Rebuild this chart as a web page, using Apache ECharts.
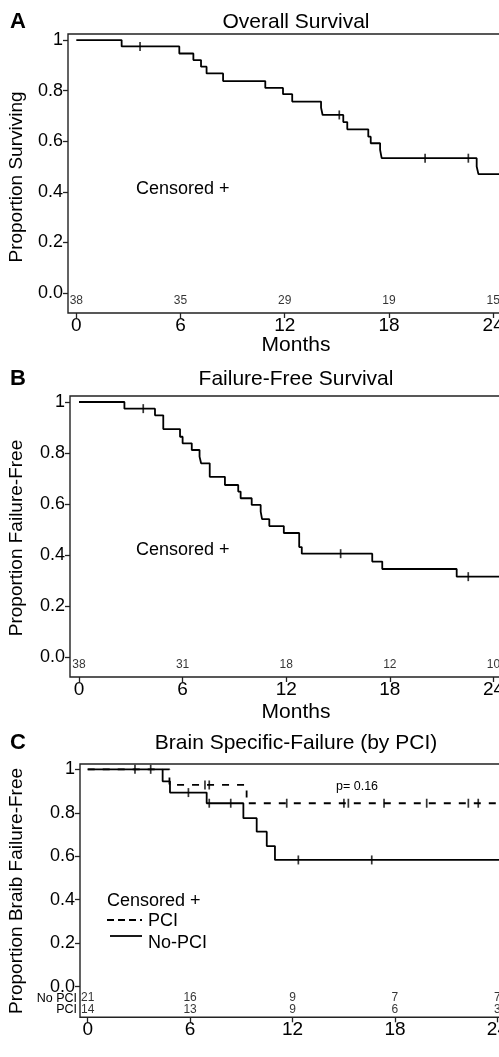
<!DOCTYPE html>
<html>
<head>
<meta charset="utf-8">
<script src="https://cdn.jsdelivr.net/npm/echarts@6/dist/echarts.min.js"></script>
<style>
  html, body { margin: 0; padding: 0; background: #fff; }
  #chart { width: 499px; height: 1057px; }
</style>
</head>
<body>
<div id="chart"></div>
<script>
// ---- data ----
const tickMonths = [0, 6, 12, 18, 24];
const yTicks = [0, 0.2, 0.4, 0.6, 0.8, 1];

// A: overall survival
const osTimes = [0, 2.61, 5.93, 6.74, 7.18, 7.5, 8.45, 10.88, 11.9, 12.43, 14.09, 14.18, 15.37, 15.6, 16.81, 16.95, 17.49, 17.58, 23.05, 23.15];
const osSurv = [1, 0.975, 0.947, 0.921, 0.895, 0.868, 0.838, 0.811, 0.786, 0.757, 0.733, 0.704, 0.676, 0.647, 0.618, 0.592, 0.566, 0.533, 0.5, 0.47];
const osCensor = [3.67, 15.14, 20.08, 22.57];
const osAtRisk = [38, 35, 29, 19, 15];

// B: failure-free survival
const ffsTimes = [0, 2.63, 4.4, 4.88, 5.85, 6.0, 6.53, 6.98, 7.07, 7.57, 8.45, 9.22, 9.36, 10.0, 10.52, 10.6, 11.02, 11.86, 12.75, 12.9, 16.98, 17.56, 21.87];
const ffsSurv = [1, 0.974, 0.948, 0.894, 0.864, 0.838, 0.812, 0.786, 0.76, 0.707, 0.675, 0.649, 0.623, 0.597, 0.571, 0.541, 0.514, 0.487, 0.432, 0.406, 0.375, 0.346, 0.316];
const ffsCensor = [3.72, 15.15, 22.54];
const ffsAtRisk = [38, 31, 18, 12, 10];

// C: brain specific failure, by PCI
const noPciTimes = [0, 4.39, 4.82, 6.97, 9.12, 9.9, 10.49, 10.97];
const noPciSurv = [1, 0.945, 0.893, 0.844, 0.775, 0.713, 0.647, 0.583];
const noPciCensor = [2.77, 3.69, 5.9, 7.12, 8.38, 12.34, 16.64];
const pciTimes = [0, 4.79, 9.31];
const pciSurv = [1, 0.928, 0.844];
const pciCensor = [6.87, 7.12, 11.66, 15.01, 15.27, 17.36, 19.86, 22.3, 22.88];
const noPciAtRisk = [21, 16, 9, 7, 7];
const pciAtRisk = [14, 13, 9, 6, 3];

// ---- layout ----
const FONT = '"Liberation Sans", Arial, sans-serif';
const X_MAX = 25;
const panels = [
  { left: 68, top: 34, height: 279, xMin: -0.478, pxPerMonth: 17.37, yMin: -0.079, yMax: 1.024 },
  { left: 70, top: 396, height: 281, xMin: -0.521, pxPerMonth: 17.27, yMin: -0.077, yMax: 1.0235 },
  { left: 80, top: 764, height: 253.3, xMin: -0.451, pxPerMonth: 17.07, yMin: -0.141, yMax: 1.0245 },
];

function kmData(times, surv) {
  const d = times.map((t, i) => [t, surv[i]]);
  d.push([X_MAX, surv[surv.length - 1]]);
  return d;
}
function stepAt(times, surv, t) {
  let v = surv[0];
  for (let i = 0; i < times.length; i++) if (times[i] <= t) v = surv[i];
  return v;
}
function censorData(times, surv, cens) {
  return cens.map((t) => [t, stepAt(times, surv, t)]);
}

const grids = panels.map((p) => ({
  left: p.left,
  top: p.top,
  height: p.height,
  width: (X_MAX - p.xMin) * p.pxPerMonth,
  outerBoundsMode: "none",
  containLabel: false,
  show: true,
  borderColor: "#222",
  borderWidth: 1.4,
  backgroundColor: "transparent",
}));

const xAxes = panels.map((p, i) => ({
  type: "value",
  gridIndex: i,
  min: p.xMin,
  max: X_MAX,
  axisLine: { show: false, onZero: false },
  splitLine: { show: false },
  axisTick: { show: true, length: 5, customValues: tickMonths, lineStyle: { color: "#222", width: 1.3 } },
  axisLabel: { customValues: tickMonths, margin: 3, fontSize: 19, color: "#000", fontFamily: FONT },
}));

const yAxes = panels.map((p, i) => ({
  type: "value",
  gridIndex: i,
  min: p.yMin,
  max: p.yMax,
  axisLine: { show: false, onZero: false },
  splitLine: { show: false },
  axisTick: { show: true, length: 5, customValues: yTicks, lineStyle: { color: "#222", width: 1.3 } },
  axisLabel: {
    customValues: yTicks,
    margin: 5,
    fontSize: 18,
    color: "#000",
    fontFamily: FONT,
    formatter: (v) => (v === 1 ? "1" : v.toFixed(1)),
  },
}));

function curve(idx, times, surv, dashed) {
  return {
    type: "line",
    xAxisIndex: idx,
    yAxisIndex: idx,
    step: "end",
    showSymbol: false,
    silent: true,
    clip: true,
    lineStyle: { color: "#000", width: 1.8, type: dashed ? [7, 8] : "solid" },
    data: kmData(times, surv),
  };
}
function censors(idx, times, surv, cens) {
  return {
    type: "scatter",
    xAxisIndex: idx,
    yAxisIndex: idx,
    symbol: "rect",
    symbolSize: [1.7, 9],
    silent: true,
    itemStyle: { color: "#000" },
    data: censorData(times, surv, cens),
  };
}
function atRisk(idx, counts, yPos) {
  return {
    type: "scatter",
    xAxisIndex: idx,
    yAxisIndex: idx,
    symbolSize: 1,
    silent: true,
    itemStyle: { color: "transparent" },
    label: {
      show: true,
      position: "inside",
      formatter: (p) => String(p.value[2]),
      fontSize: 12,
      color: "#000",
      fontFamily: FONT,
    },
    data: tickMonths.map((m, i) => [m, yPos, counts[i]]),
  };
}

function txt(x, y, s, opt) {
  return {
    type: "text",
    x: x,
    y: y,
    rotation: (opt && opt.rotation) || 0,
    silent: true,
    style: Object.assign(
      {
        text: s,
        fontFamily: FONT,
        fontSize: 18,
        fill: "#000",
        textAlign: "center",
        textVerticalAlign: "middle",
      },
      opt && opt.style
    ),
  };
}

const graphics = [
  txt(10, 22, "A", { style: { fontSize: 22, fontWeight: "bold", textAlign: "left" } }),
  txt(296, 22, "Overall Survival", { style: { fontSize: 21 } }),
  txt(16.5, 177, "Proportion Surviving", { rotation: Math.PI / 2, style: { fontSize: 19 } }),
  txt(136, 189, "Censored +", { style: { textAlign: "left" } }),
  txt(296, 345, "Months", { style: { fontSize: 21 } }),

  txt(10, 379, "B", { style: { fontSize: 22, fontWeight: "bold", textAlign: "left" } }),
  txt(296, 379, "Failure-Free Survival", { style: { fontSize: 21 } }),
  txt(16.5, 538, "Proportion Failure-Free", { rotation: Math.PI / 2, style: { fontSize: 19 } }),
  txt(136, 550, "Censored +", { style: { textAlign: "left" } }),
  txt(296, 712, "Months", { style: { fontSize: 21 } }),

  txt(10, 743, "C", { style: { fontSize: 22, fontWeight: "bold", textAlign: "left" } }),
  txt(296, 743, "Brain Specific-Failure (by PCI)", { style: { fontSize: 21 } }),
  txt(16.5, 891, "Proportion Braib Failure-Free", { rotation: Math.PI / 2, style: { fontSize: 19 } }),
  txt(336, 787, "p= 0.16", { style: { fontSize: 12.5, textAlign: "left" } }),
  txt(107, 901, "Censored +", { style: { textAlign: "left" } }),
  txt(148, 921, "PCI", { style: { textAlign: "left" } }),
  txt(148, 943, "No-PCI", { style: { textAlign: "left" } }),
  {
    type: "line",
    silent: true,
    shape: { x1: 107, y1: 920, x2: 142, y2: 920 },
    style: { stroke: "#000", lineWidth: 1.8, lineDash: [7, 4] },
  },
  {
    type: "line",
    silent: true,
    shape: { x1: 110, y1: 936, x2: 142, y2: 936 },
    style: { stroke: "#000", lineWidth: 1.8 },
  },
  txt(77, 998.5, "No PCI", { style: { fontSize: 12.5, textAlign: "right" } }),
  txt(77, 1010, "PCI", { style: { fontSize: 12.5, textAlign: "right" } }),
];

const chart = echarts.init(document.getElementById("chart"), null, { renderer: "canvas" });
chart.setOption({
  animation: false,
  backgroundColor: "#fff",
  textStyle: { fontFamily: FONT },
  grid: grids,
  xAxis: xAxes,
  yAxis: yAxes,
  graphic: graphics,
  series: [
    curve(0, osTimes, osSurv, false),
    censors(0, osTimes, osSurv, osCensor),
    atRisk(0, osAtRisk, -0.03),

    curve(1, ffsTimes, ffsSurv, false),
    censors(1, ffsTimes, ffsSurv, ffsCensor),
    atRisk(1, ffsAtRisk, -0.03),

    curve(2, pciTimes, pciSurv, true),
    curve(2, noPciTimes, noPciSurv, false),
    censors(2, pciTimes, pciSurv, pciCensor),
    censors(2, noPciTimes, noPciSurv, noPciCensor),
    atRisk(2, noPciAtRisk, -0.053),
    atRisk(2, pciAtRisk, -0.107),
  ],
});
window.onresize = function () {
  chart.resize();
};
</script>
</body>
</html>
